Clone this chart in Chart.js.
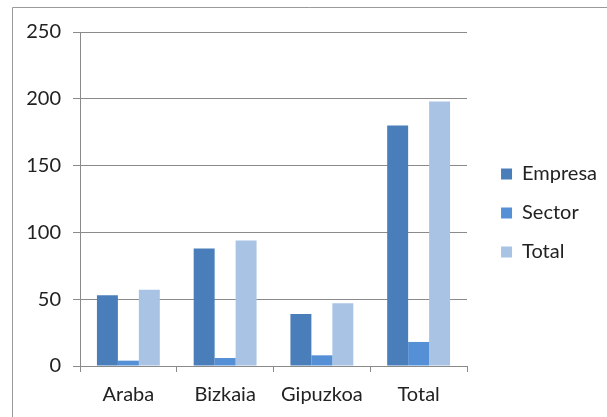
<!DOCTYPE html>
<html>
<head>
<meta charset="utf-8">
<script src="https://cdn.jsdelivr.net/npm/chart.js@4/dist/chart.umd.min.js"></script>
<style>
  html, body { margin: 0; padding: 0; background: #fff; }
  #wrap { position: relative; width: 607px; height: 417px; }
</style>
</head>
<body>
<div id="wrap"><canvas id="chart" width="607" height="417"></canvas></div>
<script>
const categories = ["Araba", "Bizkaia", "Gipuzkoa", "Total"];
const empresa = [53, 88, 39, 180];
const sector = [4, 6, 8, 18];
const total = [57, 94, 47, 198];
const yTicks = [0, 50, 100, 150, 200, 250];

const gridColor = "#8a8a8a";
const font = { family: "Lato", size: 20 };

// thin grey frame (top and left edges of the original picture)
const frame = {
    id: "frame",
    beforeDraw(chart) {
        const c = chart.ctx;
        c.save();
        c.strokeStyle = "#9a9a9a";
        c.lineWidth = 1;
        c.beginPath();
        c.moveTo(12.5, 417);
        c.lineTo(12.5, 7.5);
        c.lineTo(607, 7.5);
        c.stroke();
        c.restore();
    }
};

// legend sits a bit higher than the centred default
const legendShift = {
    id: "legendShift",
    afterLayout(chart) {
        chart.legend.bottom -= 23;
        chart.legend.height -= 23;
    }
};

new Chart(document.getElementById("chart"), {
    type: "bar",
    data: {
        labels: categories,
        datasets: [
            { label: "Empresa", data: empresa, backgroundColor: "#4a7ebb" },
            { label: "Sector", data: sector, backgroundColor: "#5590d6" },
            { label: "Total", data: total, backgroundColor: "#a9c3e5" }
        ]
    },
    options: {
        responsive: false,
        animation: false,
        layout: { padding: { top: 32, left: 0, right: 0, bottom: 0 } },
        datasets: { bar: { categoryPercentage: 0.65, barPercentage: 1 } },
        plugins: {
            tooltip: { enabled: false },
            legend: {
                position: "right",
                maxWidth: 200,
                labels: {
                    boxWidth: 11,
                    boxHeight: 11,
                    padding: 19,
                    color: "#222",
                    font: { family: "Lato", size: 20 }
                }
            }
        },
        scales: {
            x: {
                grid: { drawOnChartArea: false, color: gridColor, tickLength: 6 },
                border: { color: gridColor },
                ticks: { color: "#222", font: font, padding: 11 },
                afterFit(s) { s.height = 51; }
            },
            y: {
                min: 0,
                max: 250,
                afterBuildTicks(s) { s.ticks = yTicks.map(v => ({ value: v })); },
                grid: { color: gridColor, tickLength: 7 },
                border: { color: gridColor },
                ticks: { color: "#222", font: font, padding: 12 },
                afterFit(s) { s.width = 80; }
            },
            gap: {
                position: "right",
                display: true,
                grid: { display: false },
                border: { display: false },
                ticks: { display: false },
                afterFit(s) { s.width = 607 - 467 - s.chart.legend.width; }
            }
        }
    },
    plugins: [frame, legendShift]
});
</script>
</body>
</html>
